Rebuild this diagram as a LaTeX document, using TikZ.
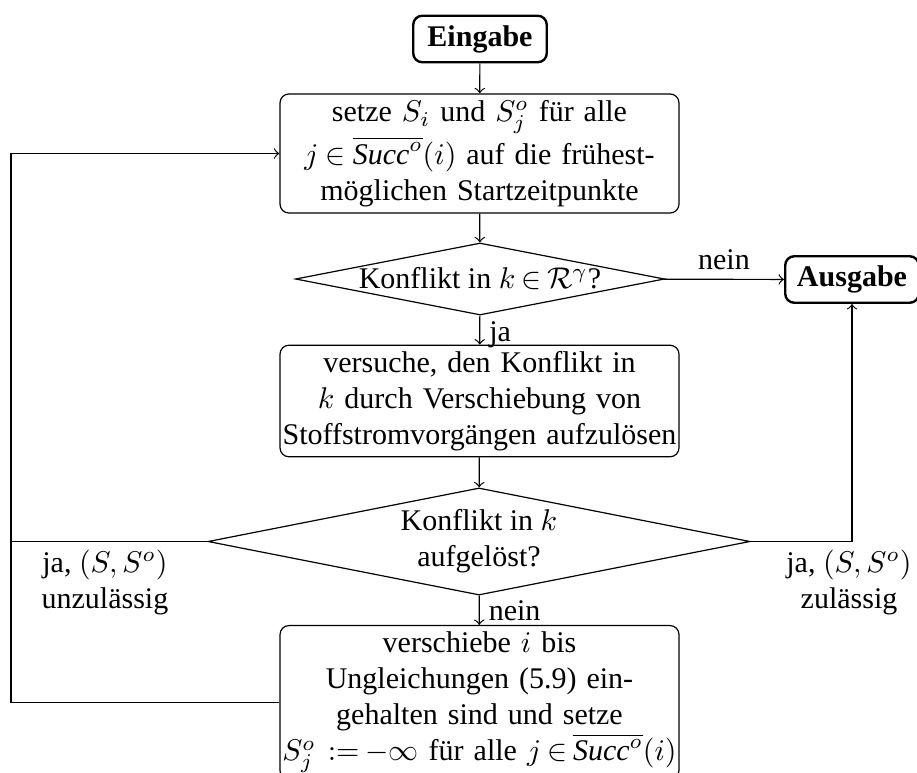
\documentclass[tikz,border=0pt]{standalone}
\usepackage{fontspec}
\setmainfont{Liberation Serif}
\usetikzlibrary{shapes.geometric}
% tighter spacing around relations and operators
\thickmuskip=3.5mu plus 2mu
\medmuskip=3mu plus 1mu minus 1mu

\begin{document}
\begin{tikzpicture}[x=0.33333pt,y=-0.33333pt,
  terminal/.style={draw,thick,rounded corners=3pt,font=\bfseries,
    minimum width=44.5pt,minimum height=15.5pt,inner sep=2pt},
  process/.style={draw,rounded corners=3pt,text width=133pt,align=center,
    inner xsep=0pt,inner ysep=2pt},
  decision/.style={draw,diamond,aspect=5,inner sep=0pt,align=center},
  flow/.style={->},
  edgelabel/.style={inner sep=3pt}]

\useasboundingbox (0,0) rectangle (917,772);

% nodes
\node[terminal] (ein) at (480,39) {Eingabe};
\node[process,minimum height=39.7pt] (b1) at (479.5,153.5)
  {setze $S_i$ und $S_j^o$ für alle\\
   $j\in\overline{\mathit{Succ}^o}(i)$ auf die frühest-\\
   möglichen Startzeitpunkte};
\node[decision,minimum width=123pt,minimum height=24pt] (d1) at (480,279)
  {Konflikt in $k\in\mathcal{R}^\gamma$?};
\node[terminal] (aus) at (852,279.5) {Ausgabe};
\node[process,minimum height=36.7pt] (b2) at (479.5,401)
  {versuche, den Konflikt in\\
   $k$ durch Verschiebung von\\
   Stoffstromvorgängen aufzulösen};
\node[decision,minimum width=180.7pt,minimum height=35.7pt] (d2) at (479,541.5)
  {Konflikt in $k$\\ aufgelöst?};
\node[process,minimum height=51.3pt] (b3) at (479.5,702.5)
  {verschiebe $i$ bis\\
   Ungleichungen (5.9) ein-\\
   gehalten sind und setze\\
   $S_j^o\;:=-\infty$ für alle $j\in\overline{\mathit{Succ}^o}(i)$};

% left return line
\coordinate (lx) at (11,541.5);

% connectors
\draw[flow] (ein) -- (b1);
\draw[flow] (b1) -- (d1);
\draw[flow] (d1) -- node[above,edgelabel] (l1) {nein} (aus);
\draw[flow] (d1) -- node[right,edgelabel,yshift=-1.5pt] (l2) {ja} (b2);
\draw[flow] (b2) -- (d2);
\draw[flow] (d2) -- node[right,edgelabel] (l3) {nein} (b3);
\draw[flow] (d2.east) -| (aus.south);
\draw[flow] (b3.west) -- (b3.west -| lx) |- (b1.west);
\draw (d2.west) -- (lx);

% branch labels
\node[align=center] (lleft) at (105,582) {ja, $(S,S^o)$\\ unzulässig};
\node[align=center] (lright) at (849,582) {ja, $(S,S^o)$\\ zulässig};
\end{tikzpicture}
\end{document}
